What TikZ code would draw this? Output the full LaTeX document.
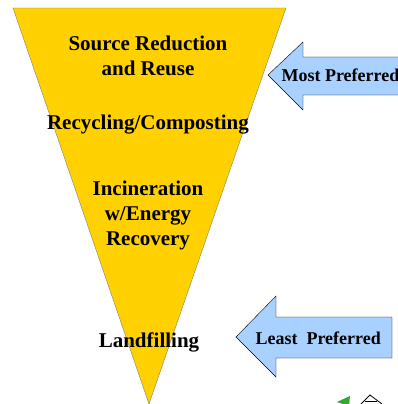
\documentclass[tikz,border=0pt]{standalone}
\usepackage{fontspec}
\setmainfont{Liberation Serif}
\usepackage{xcolor}
\definecolor{gold}{rgb}{1, 0.82, 0}
\definecolor{sky}{rgb}{0.66, 0.82, 1}
\definecolor{leaf}{rgb}{0.2, 0.65, 0.2}

\begin{document}
\begin{tikzpicture}[x=1pt, y=-1pt,
  level/.style={font=\fontsize{21}{25}\selectfont\bfseries, align=center},
  pref/.style={font=\fontsize{18}{22}\selectfont\bfseries, anchor=west}]
\useasboundingbox (0, 0) rectangle (398, 404);
\clip (0, 0) rectangle (398, 404);
\draw [fill=gold, draw=gray] (13, 8) -- (286, 8) -- (149, 404) -- cycle;
\node [level] (reduce) at (148, 56) {Source Reduction\\and Reuse};
\node [level] (recycle) at (148, 125) {Recycling/Composting};
\node [level] (burn) at (148, 215) {Incineration\\w/Energy\\Recovery};
\node [level] (landfill) at (149, 342) {Landfilling};
\draw [fill=sky] (268, 75) -- (303, 42) -- (303, 57) -- (410, 57)
  -- (410, 95) -- (303, 95) -- (303, 110) -- cycle;
\node [pref] (most) at (278, 75) {Most Preferred};
\draw [fill=sky] (236, 337) -- (276, 296) -- (276, 317) -- (392, 317)
  -- (392, 358) -- (276, 358) -- (276, 377) -- cycle;
\node [pref] (least) at (252, 338) {Least~~Preferred};
\fill [leaf] (337, 402) -- (350, 396) -- (349, 406) -- cycle;
\draw [thick] (361, 404) -- (370, 395) -- (382, 404);
\draw (365, 401) -- (377, 401);
\end{tikzpicture}
\end{document}
